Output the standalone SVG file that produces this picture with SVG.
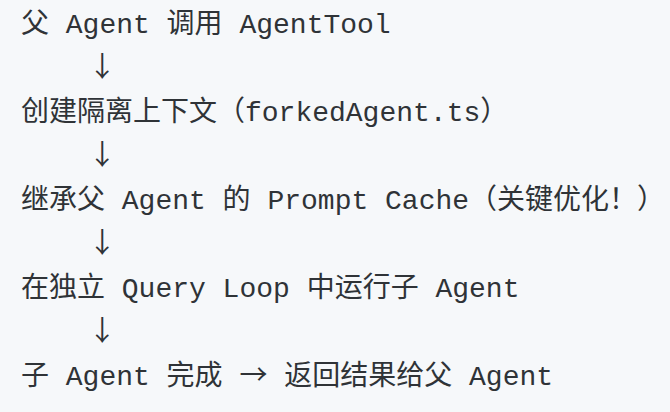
<svg xmlns="http://www.w3.org/2000/svg" width="670" height="412" viewBox="0 0 670 412">
<style>
.t{font-family:"Liberation Mono","Noto Sans CJK SC",monospace;font-size:28px;fill:#2f3337;white-space:pre}
.a{font-family:"Noto Sans CJK SC",sans-serif}
</style>
<rect width="670" height="412" fill="#f6f8fa"/>
<g id="step1"><text class="t" x="21" y="33">父 Agent 调用 AgentTool</text></g>
<g id="connectors">
<text class="t" x="21" y="77">    <tspan class="a">↓</tspan></text>
<text class="t" x="21" y="165">    <tspan class="a">↓</tspan></text>
<text class="t" x="21" y="253">    <tspan class="a">↓</tspan></text>
<text class="t" x="21" y="341">    <tspan class="a">↓</tspan></text>
</g>
<g id="step2"><text class="t" x="21" y="121">创建隔离上下文（forkedAgent.ts）</text></g>
<g id="step3"><text class="t" x="21" y="209">继承父 Agent 的 Prompt Cache（关键优化！）</text></g>
<g id="step4"><text class="t" x="21" y="297">在独立 Query Loop 中运行子 Agent</text></g>
<g id="step5"><text class="t" x="21" y="385">子 Agent 完成 <tspan class="a">→</tspan> 返回结果给父 Agent</text></g>
</svg>
